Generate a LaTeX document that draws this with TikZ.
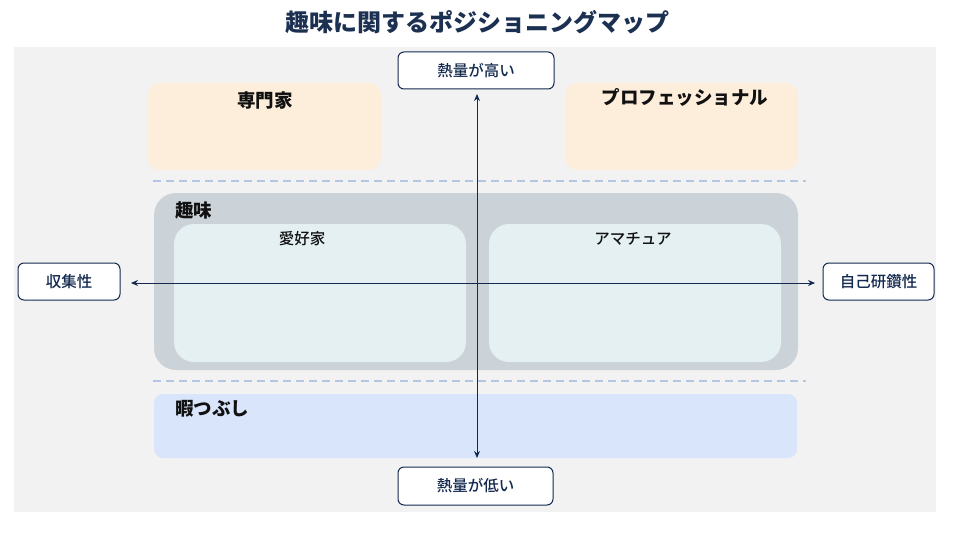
\documentclass[tikz,border=0pt]{standalone}
\usepackage{fontspec}
\setmainfont{Noto Sans CJK JP}
\newfontfamily\medfont{Noto Sans CJK JP Medium}
\usetikzlibrary{arrows.meta}
\definecolor{navy}{HTML}{13294F}
\definecolor{titlecol}{HTML}{1C3051}
\definecolor{panelbg}{HTML}{F2F2F2}
\definecolor{orangebg}{HTML}{FDEEDC}
\definecolor{hobbybg}{HTML}{CBD3D9}
\definecolor{innerbg}{HTML}{E4F0F2}
\definecolor{bluebg}{HTML}{D8E5FA}
\definecolor{dashcol}{HTML}{B4C6E4}
\definecolor{labelcol}{HTML}{111111}
\tikzset{
  area/.style={rounded corners=#1, inner sep=0pt, draw=none},
  axisbox/.style={draw=navy, line width=1pt, fill=white, rounded corners=6pt, inner sep=0pt, font=\medfont\fontsize{15.5}{17}\selectfont, text=navy},
  biglabel/.style={font=\fontsize{18.5}{20}\selectfont\bfseries, text=labelcol, inner sep=0pt},
  smalllabel/.style={font=\medfont\fontsize{15.5}{17}\selectfont, text=labelcol, inner sep=0pt},
  axisline/.style={navy, line width=1pt, {Stealth[length=7pt,width=6pt]}-{Stealth[length=7pt,width=6pt]}},
  divider/.style={dashcol, line width=1.3pt, dash pattern=on 8pt off 5pt}
}
\begin{document}
\begin{tikzpicture}[x=1pt,y=-1pt]
\useasboundingbox (0,0) rectangle (960,540);
\fill[white] (0,0) rectangle (960,540);
% title
\node[font=\fontsize{24}{26}\selectfont\bfseries, text=titlecol, inner sep=0pt] (title) at (477,22) {趣味に関するポジショニングマップ};
% panel
\node[area=0pt, fill=panelbg, minimum width=922pt, minimum height=465pt] (panel) at (475,279.5) {};
% top quadrants
\node[area=12pt, fill=orangebg, minimum width=233pt, minimum height=87pt] (expertbox) at (264.5,126.5) {};
\node[area=12pt, fill=orangebg, minimum width=233pt, minimum height=87pt] (probox) at (681.5,126.5) {};
\node[biglabel] (expert) at (265,100) {専門家};
\node[biglabel] (pro) at (685,97) {プロフェッショナル};
% dividers
\coordinate (d1l) at (153,181); \coordinate (d1r) at (806,181);
\coordinate (d2l) at (153,381); \coordinate (d2r) at (806,381);
\draw[divider] (d1l) -- (d1r);
\draw[divider] (d2l) -- (d2r);
% hobby
\node[area=22pt, fill=hobbybg, minimum width=644pt, minimum height=177pt] (hobbybox) at (476,281.5) {};
\node[biglabel] (hobby) at (193.5,210) {趣味};
\node[area=20pt, fill=innerbg, minimum width=292pt, minimum height=138pt] (fanbox) at (320,293) {};
\node[area=20pt, fill=innerbg, minimum width=292pt, minimum height=138pt] (amabox) at (635,293) {};
\node[smalllabel] (fan) at (302,239) {愛好家};
\node[smalllabel] (ama) at (633,239) {アマチュア};
% time killing
\node[area=9pt, fill=bluebg, minimum width=643pt, minimum height=64pt] (killbox) at (475.5,426) {};
\node[biglabel, anchor=west] (kill) at (175,409) {暇つぶし};
% axis boxes
\node[axisbox, minimum width=156pt, minimum height=37pt] (high) at (476,70.5) {熱量が高い};
\node[axisbox, minimum width=155pt, minimum height=38pt] (low) at (475.5,486) {熱量が低い};
\node[axisbox, minimum width=102pt, minimum height=37pt] (collect) at (69,281.5) {収集性};
\node[axisbox, minimum width=111pt, minimum height=37pt] (self) at (878.5,281.5) {自己研鑽性};
% axes
\coordinate (vtop) at (477,94); \coordinate (vbot) at (477,458);
\coordinate (hl) at (131,283); \coordinate (hr) at (815,283);
\draw[axisline] (vtop) -- (vbot);
\draw[axisline] (hl) -- (hr);
\end{tikzpicture}
\end{document}
